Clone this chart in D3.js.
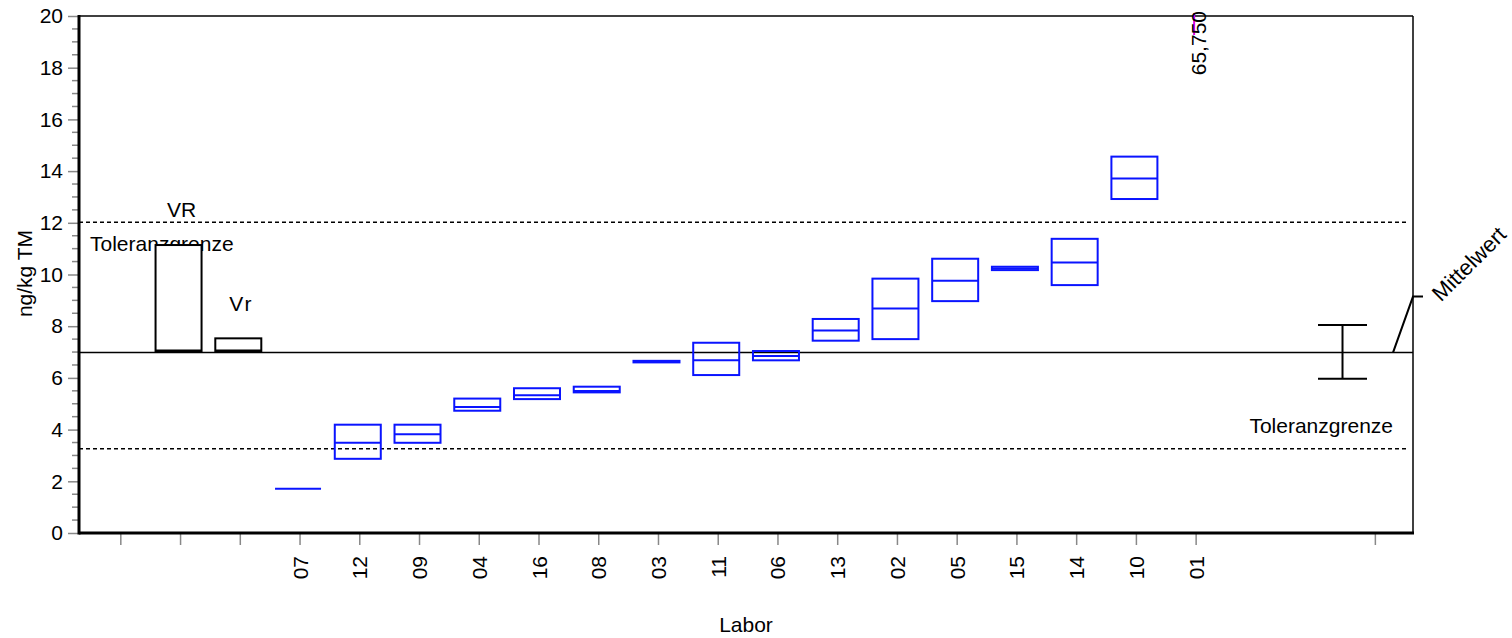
<!DOCTYPE html>
<html>
<head>
<meta charset="utf-8">
<script src="https://cdn.jsdelivr.net/npm/d3@7"></script>
<style>
  html, body { margin: 0; padding: 0; background: #fff; }
  svg { display: block; font-family: "Liberation Sans", Arial, Helvetica, sans-serif; }
</style>
</head>
<body>
<svg id="chart" width="1512" height="638"></svg>
<script>
// Laboratory codes, sorted by mean value
const labs  = ["07","12","09","04","16","08","03","11","06","13","02","05","15","14","10","01"];
// Per-lab mean and range (ng/kg TM)
const labMean = [1.71, 3.49, 3.82, 4.87, 5.33, 5.49, 6.63, 6.68, 6.85, 7.83, 8.68, 9.76, 10.23, 10.46, 13.71, 65.75];
const labLow  = [1.71, 2.87, 3.49, 4.73, 5.18, 5.44, 6.60, 6.11, 6.68, 7.44, 7.50, 8.97, 10.17, 9.59, 12.92, 65.75];
const labHigh = [1.71, 4.19, 4.19, 5.20, 5.60, 5.66, 6.66, 7.36, 7.04, 8.28, 9.84, 10.61, 10.30, 11.38, 14.56, 65.75];

// Overall statistics
const grandMean = 6.98;
const tolUpper = 12.02;
const tolLower = 3.26;
const meanBarLow = 5.97;
const meanBarHigh = 8.05;
const reproTop = 11.14;   // VR
const repeatTop = 7.53;   // Vr

// Axis ticks
const yMajor = [0, 2, 4, 6, 8, 10, 12, 14, 16, 18, 20];
const yMinor = d3.range(0, 20.01, 0.5).filter(v => v % 2 !== 0);
const slotTicks = [0, 1, 2].concat(d3.range(3, 3 + labs.length), [21]);

const svg = d3.select("#chart");
const pLeft = 79, pRight = 1413, pTop = 16, pBottom = 533;
const fs = 21;

const x = d3.scaleLinear().domain([-0.7, 21.63]).range([pLeft, pRight]);
const y = d3.scaleLinear().domain([0, 20]).range([pBottom, pTop]);
const boxW = 46, shift = -2;
const slotOf = i => 3 + i;

// Frame: thin top/right, heavy left/bottom
svg.append("line").attr("x1", pLeft).attr("x2", pRight).attr("y1", pTop).attr("y2", pTop)
  .attr("stroke", "#000").attr("stroke-width", 1.5);
svg.append("line").attr("x1", pRight).attr("x2", pRight).attr("y1", pTop).attr("y2", pBottom)
  .attr("stroke", "#000").attr("stroke-width", 1.5);

// Y axis with major labelled ticks
const yAxis = svg.append("g").attr("transform", `translate(${pLeft},0)`)
  .call(d3.axisLeft(y).tickValues(yMajor).tickSize(11).tickPadding(5).tickFormat(d3.format("d")));
yAxis.select(".domain").remove();
yAxis.selectAll(".tick line").attr("stroke", "#888").attr("stroke-width", 1.5);
yAxis.selectAll(".tick text").attr("font-size", fs).attr("fill", "#000")
  .attr("font-family", "Liberation Sans, Arial, sans-serif");
// Minor ticks
svg.append("g").selectAll("line").data(yMinor).join("line")
  .attr("x1", pLeft - 7).attr("x2", pLeft).attr("y1", d => y(d)).attr("y2", d => y(d))
  .attr("stroke", "#888").attr("stroke-width", 1.5);

// X axis ticks and lab labels
const xg = svg.append("g");
xg.selectAll("line").data(slotTicks).join("line")
  .attr("x1", d => x(d)).attr("x2", d => x(d)).attr("y1", pBottom).attr("y2", pBottom + 12)
  .attr("stroke", "#888").attr("stroke-width", 1.5);
xg.selectAll("text").data(labs).join("text")
  .attr("transform", (d, i) => `translate(${x(slotOf(i))},${pBottom + 23}) rotate(-90)`)
  .attr("text-anchor", "end").attr("dominant-baseline", "central")
  .attr("font-size", fs).text(d => d);

// Heavy axis lines
svg.append("line").attr("x1", pLeft).attr("x2", pLeft).attr("y1", pTop - 1).attr("y2", pBottom + 1.5)
  .attr("stroke", "#000").attr("stroke-width", 3);
svg.append("line").attr("x1", pLeft).attr("x2", pRight + 1).attr("y1", pBottom).attr("y2", pBottom)
  .attr("stroke", "#000").attr("stroke-width", 3);

// Axis titles
svg.append("text").attr("transform", `translate(24,${(y(0) + y(20)) / 2 - 1}) rotate(-90)`)
  .attr("text-anchor", "middle").attr("dominant-baseline", "central")
  .attr("font-size", fs).text("ng/kg TM");
svg.append("text").attr("x", (pLeft + pRight) / 2).attr("y", 632)
  .attr("text-anchor", "middle").attr("font-size", fs).text("Labor");

// Tolerance limits (dashed) and grand mean (solid)
[tolUpper, tolLower].forEach(v => {
  svg.append("line").attr("x1", pLeft).attr("x2", pRight - 7).attr("y1", y(v)).attr("y2", y(v))
    .attr("stroke", "#000").attr("stroke-width", 1.5).attr("stroke-dasharray", "4,3");
});
svg.append("line").attr("x1", pLeft).attr("x2", pRight).attr("y1", y(grandMean)).attr("y2", y(grandMean))
  .attr("stroke", "#000").attr("stroke-width", 1.5);

svg.append("text").attr("x", 90).attr("y", y(tolUpper) + 29)
  .attr("font-size", fs).text("Toleranzgrenze");
svg.append("text").attr("x", pRight - 20).attr("y", y(tolLower) - 16)
  .attr("text-anchor", "end").attr("font-size", fs).text("Toleranzgrenze");

// VR and Vr boxes, resting on the grand mean
svg.append("text").attr("x", x(1) + 1).attr("y", y(reproTop) - 28)
  .attr("text-anchor", "middle").attr("font-size", fs).text("VR");
svg.append("text").attr("x", x(2) + 1).attr("y", y(repeatTop) - 27)
  .attr("text-anchor", "middle").attr("font-size", fs).attr("letter-spacing", 2).text("Vr");
[[1, reproTop], [2, repeatTop]].forEach(([s, t]) => {
  svg.append("rect")
    .attr("x", x(s) + shift - boxW / 2).attr("width", boxW)
    .attr("y", y(t)).attr("height", y(grandMean) - y(t) - 1)
    .attr("fill", "#fff").attr("stroke", "#000").attr("stroke-width", 2);
  svg.append("line")
    .attr("x1", x(s) + shift - boxW / 2).attr("x2", x(s) + shift + boxW / 2)
    .attr("y1", y(grandMean) - 1.5).attr("y2", y(grandMean) - 1.5)
    .attr("stroke", "#000").attr("stroke-width", 3);
});

// Lab boxes: range as rectangle, mean as inner line
const blue = "#0a14ff";
const onScale = labs.map((d, i) => i).filter(i => labHigh[i] <= 20);
const boxes = svg.append("g");
onScale.forEach(i => {
  const cx = x(slotOf(i)) + shift;
  const y0 = y(labHigh[i]), y1 = y(labLow[i]);
  if (y1 - y0 > 0.5) {
    boxes.append("rect").attr("x", cx - boxW / 2).attr("width", boxW)
      .attr("y", y0).attr("height", y1 - y0)
      .attr("fill", "none").attr("stroke", blue).attr("stroke-width", 2);
  }
  boxes.append("line").attr("x1", cx - boxW / 2).attr("x2", cx + boxW / 2)
    .attr("y1", y(labMean[i])).attr("y2", y(labMean[i]))
    .attr("stroke", blue).attr("stroke-width", 2);
});

// Off-scale lab: marker at the top edge plus its value
labs.forEach((d, i) => {
  if (labMean[i] <= 20) return;
  const cx = x(slotOf(i)) + shift;
  const yy = y(Math.min(labMean[i], 20));
  svg.append("line").attr("x1", cx).attr("x2", cx).attr("y1", yy - 3).attr("y2", yy + 19)
    .attr("stroke", "#e000e0").attr("stroke-width", 2);
  svg.append("text")
    .attr("transform", `translate(${cx + 4},${yy - 5}) rotate(-90)`)
    .attr("text-anchor", "end").attr("dominant-baseline", "central")
    .attr("font-size", fs).text(d3.format(".3f")(labMean[i]).replace(".", ","));
});

// Grand mean bar and its label
const mx = x(20.45);
svg.append("line").attr("x1", mx).attr("x2", mx).attr("y1", y(meanBarHigh)).attr("y2", y(meanBarLow))
  .attr("stroke", "#000").attr("stroke-width", 2);
[meanBarHigh, meanBarLow].forEach(v => {
  svg.append("line").attr("x1", mx - 24.5).attr("x2", mx + 24.5).attr("y1", y(v)).attr("y2", y(v))
    .attr("stroke", "#000").attr("stroke-width", 2);
});
svg.append("polyline")
  .attr("points", `${pRight - 20},${y(grandMean)} ${pRight},${y(grandMean) - 56} ${pRight + 10},${y(grandMean) - 56}`)
  .attr("fill", "none").attr("stroke", "#000").attr("stroke-width", 2);
svg.append("text")
  .attr("transform", `translate(${pRight + 28},${y(grandMean) - 50}) rotate(-45)`)
  .attr("font-size", 22).text("Mittelwert");
</script>
</body>
</html>
